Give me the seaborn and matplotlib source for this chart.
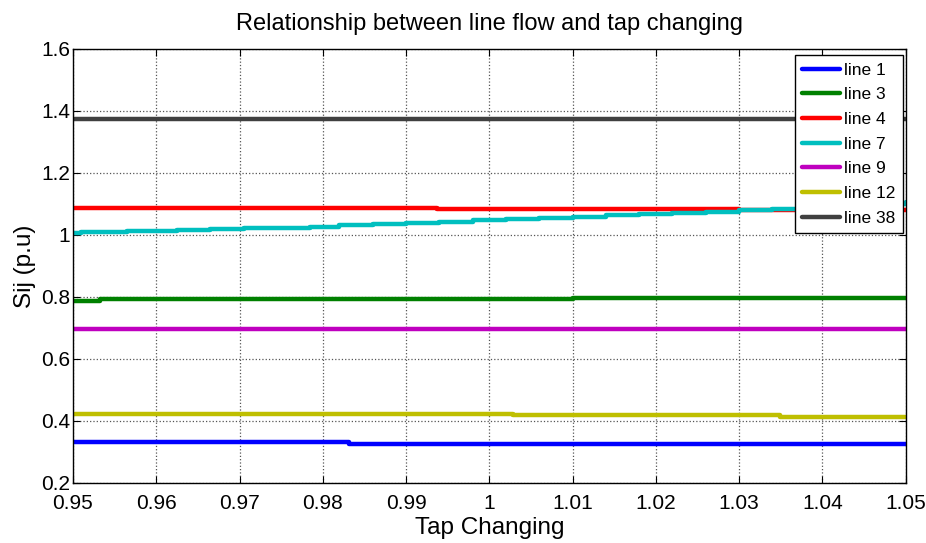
import matplotlib
matplotlib.use("Agg")
import matplotlib.pyplot as plt
import seaborn as sns
import pandas as pd

# ---- data (step breakpoints) ----
line1_x = [0.95, 0.9832, 1.05]
line1_y = [0.331, 0.327, 0.327]

line3_x = [0.95, 0.9532, 1.010, 1.05]
line3_y = [0.787, 0.792, 0.796, 0.796]

line4_x = [0.95, 0.9937, 1.030, 1.05]
line4_y = [1.088, 1.084, 1.082, 1.082]

line7_x = [0.95, 0.951, 0.9565, 0.9625, 0.9665, 0.9705, 0.975, 0.9785, 0.982,
           0.986, 0.990, 0.994, 0.998, 1.002, 1.006, 1.010, 1.014, 1.018,
           1.022, 1.026, 1.030, 1.034, 1.038, 1.042, 1.046, 1.05]
line7_y = [1.006, 1.009, 1.012, 1.015, 1.018, 1.021, 1.024, 1.027, 1.031,
           1.035, 1.039, 1.043, 1.047, 1.051, 1.055, 1.059, 1.063, 1.067,
           1.071, 1.075, 1.080, 1.085, 1.090, 1.095, 1.101, 1.106]

line9_x = [0.95, 1.05]
line9_y = [0.696, 0.696]

line12_x = [0.95, 0.9744, 1.0028, 1.0349, 1.05]
line12_y = [0.4235, 0.421, 0.418, 0.414, 0.414]

line38_x = [0.95, 1.05]
line38_y = [1.373, 1.373]

labels = ["line 1", "line 3", "line 4", "line 7", "line 9", "line 12", "line 38"]
colors = ["#0000FF", "#008000", "#FF0000", "#00BFBF", "#BF00BF", "#BFBF00", "#404040"]
series = [(line1_x, line1_y), (line3_x, line3_y), (line4_x, line4_y), (line7_x, line7_y),
          (line9_x, line9_y), (line12_x, line12_y), (line38_x, line38_y)]

xticks = [0.95, 0.96, 0.97, 0.98, 0.99, 1.0, 1.01, 1.02, 1.03, 1.04, 1.05]
xticklabels = ["0.95", "0.96", "0.97", "0.98", "0.99", "1", "1.01", "1.02", "1.03", "1.04", "1.05"]
yticks = [0.2, 0.4, 0.6, 0.8, 1.0, 1.2, 1.4, 1.6]
yticklabels = ["0.2", "0.4", "0.6", "0.8", "1", "1.2", "1.4", "1.6"]

sns.set_theme(style="white")
plt.rcParams["font.family"] = ["Liberation Sans", "DejaVu Sans"]

fig = plt.figure(figsize=(9.26, 5.43), dpi=100)
ax = fig.add_axes([0.0788, 0.1105, 0.8992, 0.7993])

for (xs, ys), lab, col in zip(series, labels, colors):
    df = pd.DataFrame({"x": xs, "y": ys})
    sns.lineplot(data=df, x="x", y="y", ax=ax, color=col, linewidth=3.2,
                 drawstyle="steps-post", label=lab, sort=False, estimator=None)

ax.set_xlim(0.95, 1.05)
ax.set_ylim(0.2, 1.6)
ax.set_xticks(xticks)
ax.set_xticklabels(xticklabels)
ax.set_yticks(yticks)
ax.set_yticklabels(yticklabels)
ax.grid(True, linestyle=":", color="#555555", linewidth=0.9)
ax.set_axisbelow(True)
for s in ax.spines.values():
    s.set_color("black")
    s.set_linewidth(1.0)
ax.tick_params(axis="both", direction="in", length=5, width=0.8, colors="black",
               labelsize=15, top=True, right=True, bottom=True, left=True)
ax.tick_params(axis="x", pad=8)
ax.tick_params(axis="y", pad=2)
for lbl in ax.get_xticklabels() + ax.get_yticklabels():
    lbl.set_color("black")

ax.set_title("Relationship between line flow and tap changing", fontsize=17, pad=14, color="black")
ax.set_xlabel("Tap Changing", fontsize=17.5, labelpad=3, color="black")
ax.set_ylabel("Sij (p.u)", fontsize=17.5, labelpad=4, color="black")

leg = ax.legend(loc="upper right", bbox_to_anchor=(0.9965, 0.985), fontsize=12.5,
                frameon=True, fancybox=False, framealpha=1, edgecolor="black",
                handlelength=2.2, handletextpad=0.25, borderpad=0.4,
                labelspacing=0.55, borderaxespad=0.0)
leg.get_frame().set_linewidth(1.0)
for t in leg.get_texts():
    t.set_color("black")

fig.savefig("out.png", dpi=100)
